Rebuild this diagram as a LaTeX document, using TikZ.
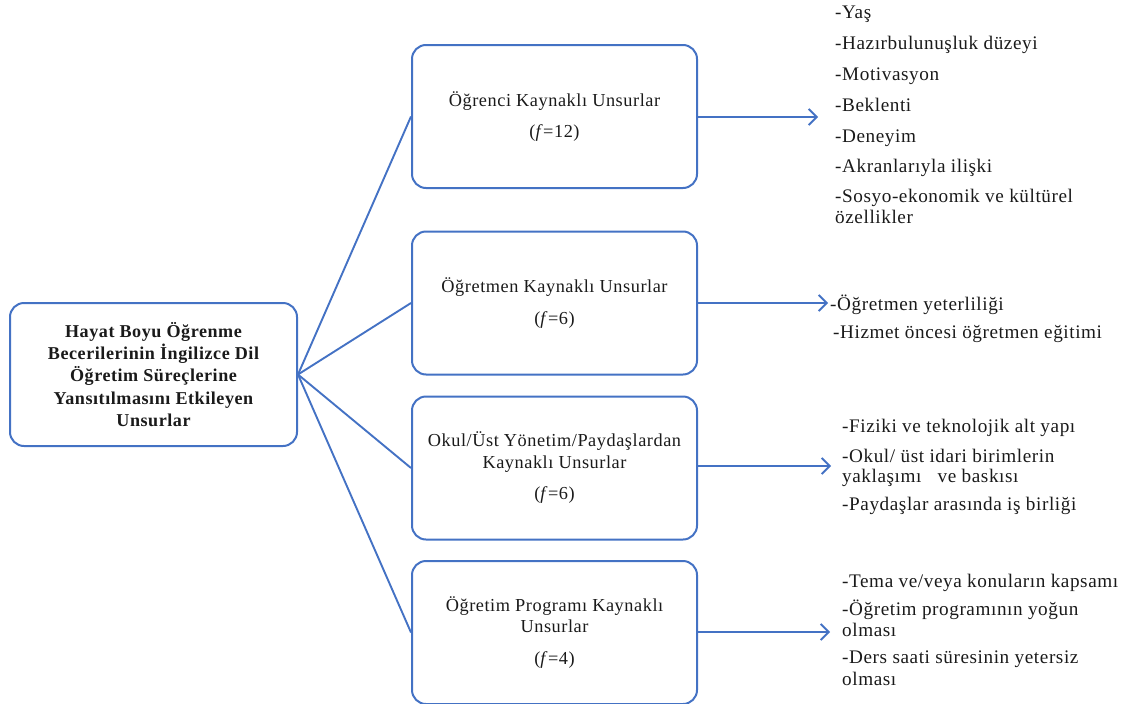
\documentclass[tikz,border=0pt]{standalone}
\usepackage{fontspec}
\setmainfont{Liberation Serif}[LetterSpace=3]
\usetikzlibrary{arrows.meta}
\definecolor{bl}{HTML}{4472C4}
\definecolor{tx}{HTML}{1A1A1A}
\begin{document}
\begin{tikzpicture}[x=1pt,y=-1pt,
  box/.style={draw=bl,line width=2pt,rounded corners=14pt,minimum width=285pt,minimum height=143pt,inner sep=2pt,align=center,text=tx,font=\fontsize{18.3}{21.5}\selectfont},
  mainbox/.style={box,minimum width=287pt,font=\bfseries\fontsize{18.1}{22.2}\selectfont},
  item/.style={anchor=base west,inner sep=0pt,text=tx,font=\fontsize{19.2}{22}\selectfont},
  link/.style={draw=bl,line width=1.9pt},
  arr/.style={link,-{Straight Barb[length=8pt,width=16pt,line width=1.9pt]}}]
\useasboundingbox (0,0) rectangle (1127,704);

% boxes
\node[mainbox] (m) at (153.5,374.5) {Hayat Boyu Öğrenme\\Becerilerinin İngilizce Dil\\Öğretim Süreçlerine\\Yansıtılmasını Etkileyen\\Unsurlar};
\node[box] (b1) at (554.5,116.5) {Öğrenci Kaynaklı Unsurlar\\[10pt](\textit{f}=12)};
\node[box] (b2) at (554.5,303) {Öğretmen Kaynaklı Unsurlar\\[10pt](\textit{f}=6)};
\node[box] (b3) at (554.5,468) {Okul/Üst Yönetim/Paydaşlardan\\Kaynaklı Unsurlar\\[10pt](\textit{f}=6)};
\node[box] (b4) at (554.5,632.5) {Öğretim Programı Kaynaklı\\Unsurlar\\[10pt](\textit{f}=4)};

% connectors
\foreach \b in {b1,b2,b3,b4} \draw[link] (m.east) -- (\b.west);

% arrow ends
\coordinate (e1) at (818,117);
\coordinate (e2) at (828,303);
\coordinate (e3) at (831,466);
\coordinate (e4) at (830,632);
\draw[arr] (b1.east |- e1) -- (e1);
\draw[arr] (b2.east |- e2) -- (e2);
\draw[arr] (b3.east |- e3) -- (e3);
\draw[arr] (b4.east |- e4) -- (e4);

% list 1
\node[item] (l11) at (835,18) {-Yaş};
\node[item] (l12) at (835,49) {-Hazırbulunuşluk düzeyi};
\node[item] (l13) at (835,80) {-Motivasyon};
\node[item] (l14) at (835,111) {-Beklenti};
\node[item] (l15) at (835,142) {-Deneyim};
\node[item] (l16) at (835,172) {-Akranlarıyla ilişki};
\node[item] (l17) at (835,202) {-Sosyo-ekonomik ve kültürel};
\node[item] (l17b) at (835,223) {özellikler};

% list 2
\node[item] (l21) at (830,310) {-Öğretmen yeterliliği};
\node[item] (l22) at (833,338) {-Hizmet öncesi öğretmen eğitimi};

% list 3
\node[item] (l31) at (842,432) {-Fiziki ve teknolojik alt yapı};
\node[item] (l32) at (842,462) {-Okul/ üst idari birimlerin};
\node[item] (l32b) at (842,482) {yaklaşımı\ \ \ ve baskısı};
\node[item] (l33) at (842,510) {-Paydaşlar arasında iş birliği};

% list 4
\node[item] (l41) at (842,587) {-Tema ve/veya konuların kapsamı};
\node[item] (l42) at (842,615) {-Öğretim programının yoğun};
\node[item] (l42b) at (842,636) {olması};
\node[item] (l43) at (842,663) {-Ders saati süresinin yetersiz};
\node[item] (l43b) at (842,685) {olması};
\end{tikzpicture}
\end{document}
